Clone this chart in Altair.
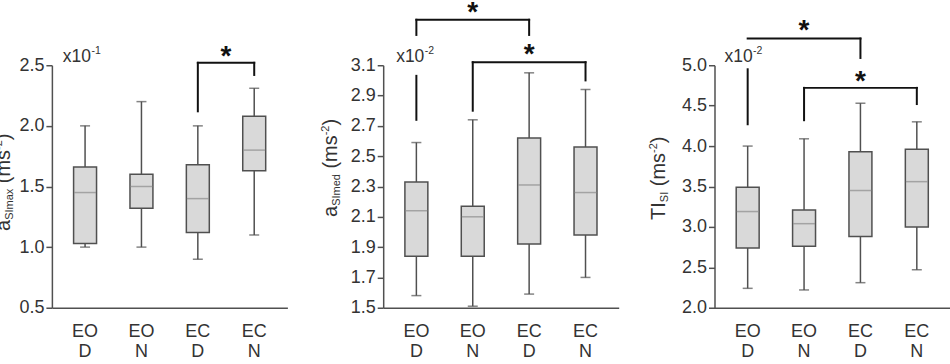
import altair as alt
import pandas as pd

# ---- groups: eyes open / eyes closed, day / night ----
group_pos = [1, 2, 3, 4]
eye_cond = ["EO", "EO", "EC", "EC"]
time_cond = ["D", "N", "D", "N"]

# ---- a_SImax (x10^-1 m s^-2): box statistics ----
amax_min = [1.00, 1.00, 0.90, 1.10]
amax_q1 = [1.03, 1.32, 1.12, 1.63]
amax_med = [1.45, 1.50, 1.40, 1.80]
amax_q3 = [1.66, 1.60, 1.68, 2.08]
amax_max = [2.00, 2.20, 2.00, 2.31]

# ---- a_SImed (x10^-2 m s^-2) ----
amed_min = [1.58, 1.51, 1.59, 1.70]
amed_q1 = [1.84, 1.84, 1.92, 1.98]
amed_med = [2.14, 2.10, 2.31, 2.26]
amed_q3 = [2.33, 2.17, 2.62, 2.56]
amed_max = [2.59, 2.74, 3.05, 2.94]

# ---- TI_SI (x10^-2 m s^-2) ----
ti_min = [2.24, 2.22, 2.31, 2.47]
ti_q1 = [2.74, 2.76, 2.88, 3.00]
ti_med = [3.19, 3.04, 3.45, 3.56]
ti_q3 = [3.49, 3.21, 3.93, 3.96]
ti_max = [4.00, 4.09, 4.53, 4.30]

# ---- y-axis ticks ----
amax_ticks = [0.5, 1.0, 1.5, 2.0, 2.5]
amed_ticks = [1.5, 1.7, 1.9, 2.1, 2.3, 2.5, 2.7, 2.9, 3.1]
ti_ticks = [2.0, 2.5, 3.0, 3.5, 4.0, 4.5, 5.0]

# ---- significance brackets: horizontal bars (from, to, level) ----
amax_bar_from, amax_bar_to, amax_bar_level = [3], [4], [2.52]
amed_bar_from, amed_bar_to, amed_bar_level = [1, 2], [3, 4], [3.40, 3.12]
ti_bar_from, ti_bar_to, ti_bar_level = [1, 2], [3, 4], [5.33, 4.72]

# bracket legs (group, upper end, lower end)
amax_leg_at, amax_leg_top, amax_leg_end = [3, 4], [2.52, 2.52], [2.12, 2.42]
amed_leg_at = [1, 1, 3, 2, 4]
amed_leg_top = [3.40, 3.03, 3.40, 3.12, 3.12]
amed_leg_end = [3.30, 2.74, 3.30, 2.80, 3.00]
ti_leg_at = [1, 3, 2, 4]
ti_leg_top = [4.95, 5.33, 4.72, 4.72]
ti_leg_end = [4.27, 5.09, 4.32, 4.52]

# asterisks (centre between the compared groups, level)
amax_star_at, amax_star_level = [3.5], [2.61]
amed_star_at, amed_star_level = [2.0, 3.0], [3.48, 3.20]
ti_star_at, ti_star_level = [2.0, 3.0], [5.49, 4.86]

# ---- styling ----
W, H = 236, 243
FONT = "Liberation Sans"
LINE = "#505050"
TEXT = "#333333"
BOX_FILL = "#d9d9d9"
MEDIAN = "#8c8c8c"
BRACKET = "#111111"

# Arial / Liberation Sans advance widths (per 1000 em) for laying out rich titles
ADV = {"a": 556, "S": 667, "I": 278, "m": 833, "x": 500, "e": 556, "d": 556,
       "T": 611, " ": 278, "(": 333, ")": 333, "s": 500, "-": 333,
       "0": 556, "1": 556, "2": 556}


def text_width(s, size):
    return sum(ADV.get(c, 556) for c in s) * size / 1000.0


def one_text(txt, x, y, size, **kw):
    return alt.Chart(pd.DataFrame({"t": [txt]})).mark_text(
        font=FONT, fontSize=size, color=TEXT, align="left", baseline="alphabetic", **kw
    ).encode(x=alt.value(x), y=alt.value(y), text="t:N")


def rotated_title(parts, x, y0):
    """Vertical title reading bottom to top, with sub/superscript pieces."""
    layers = []
    y = y0
    for txt, kind in parts:
        size = 20 if kind == "main" else 11
        shift = {"main": 0, "sub": 3, "sup": -8}[kind]
        stripped = txt.lstrip(" ")
        y -= text_width(txt[: len(txt) - len(stripped)], size)
        layers.append(one_text(stripped, x + shift, y, size, angle=270))
        y -= text_width(stripped, size)
    return layers


def exponent(power, x, y):
    return [one_text("x10", x, y, 17.5),
            one_text(power, x + text_width("x10", 17.5) + 0.5, y - 8, 10.5)]


def panel(lo, q1, med, q3, hi, ticks, bars, legs, stars, title_parts, title_x, title_y0,
          power, exp_x, exp_y, extra=None):
    box = pd.DataFrame({"pos": group_pos, "eye": eye_cond, "time": time_cond,
                        "lo": lo, "q1": q1, "med": med, "q3": q3, "hi": hi})
    xscale = alt.Scale(domain=[0.5, 4.5], nice=False, zero=False)
    yscale = alt.Scale(domain=[ticks[0], ticks[-1]], nice=False, zero=False)
    xaxis = alt.Axis(title=None, labels=False, ticks=False, grid=False,
                     domainColor=LINE, domainWidth=1.5)
    yaxis = alt.Axis(title=None, values=ticks, tickCount=len(ticks), format=".1f",
                     grid=False, tickSize=6, tickWidth=1.5, tickColor=LINE,
                     domainColor=LINE, domainWidth=1.5,
                     labelFont=FONT, labelFontSize=18, labelColor=TEXT, labelPadding=2,
                     labelOverlap=False, labelFlush=False)

    def X(field):
        return alt.X(field, scale=xscale, axis=xaxis, title=None)

    def Y(field):
        return alt.Y(field, scale=yscale, axis=yaxis, title=None)

    base = alt.Chart(box)
    whisk = base.mark_rule(color=LINE, strokeWidth=1.5).encode(
        x=X("pos:Q"), y=Y("lo:Q"), y2="hi:Q")
    boxes = base.mark_bar(size=23, fill=BOX_FILL, stroke=LINE, strokeWidth=1.5).encode(
        x=X("pos:Q"), y=Y("q1:Q"), y2="q3:Q")
    medians = base.mark_tick(orient="horizontal", size=22, thickness=1.5, color=MEDIAN).encode(
        x=X("pos:Q"), y=Y("med:Q"))
    cap_lo = base.mark_tick(orient="horizontal", size=10, thickness=1.5, color=LINE).encode(
        x=X("pos:Q"), y=Y("lo:Q"))
    cap_hi = base.mark_tick(orient="horizontal", size=10, thickness=1.5, color=LINE).encode(
        x=X("pos:Q"), y=Y("hi:Q"))
    lab_eye = base.mark_text(font=FONT, fontSize=18, color=TEXT, baseline="alphabetic").encode(
        x=X("pos:Q"), y=alt.value(H + 29), text="eye:N")
    lab_time = base.mark_text(font=FONT, fontSize=18, color=TEXT, baseline="alphabetic").encode(
        x=X("pos:Q"), y=alt.value(H + 49), text="time:N")

    bar_df = pd.DataFrame({"b0": bars[0], "b1": bars[1], "lvl": bars[2]})
    hbars = alt.Chart(bar_df).mark_rule(color=BRACKET, strokeWidth=2, strokeCap="square").encode(
        x=X("b0:Q"), x2="b1:Q", y=Y("lvl:Q"))
    leg_df = pd.DataFrame({"at": legs[0], "top": legs[1], "end": legs[2]})
    vlegs = alt.Chart(leg_df).mark_rule(color=BRACKET, strokeWidth=2, strokeCap="square").encode(
        x=X("at:Q"), y=Y("top:Q"), y2="end:Q")
    star_df = pd.DataFrame({"at": stars[0], "lvl": stars[1], "s": ["*"] * len(stars[0])})
    star = alt.Chart(star_df).mark_text(font=FONT, fontSize=28, fontWeight="bold",
                                        color=BRACKET, baseline="middle", dy=5).encode(
        x=X("at:Q"), y=Y("lvl:Q"), text="s:N")

    layers = [whisk, boxes, medians, cap_lo, cap_hi, lab_eye, lab_time, hbars, vlegs, star]
    layers += rotated_title(title_parts, title_x, title_y0)
    layers += exponent(power, exp_x, exp_y)
    if extra is not None:
        layers.append(extra)
    return alt.layer(*layers).properties(width=W, height=H)


# invisible corner that fixes the drawing origin of the whole figure
corner = alt.Chart(pd.DataFrame({"k": [0]})).mark_rect(opacity=0).encode(
    x=alt.value(-100), x2=alt.value(-99), y=alt.value(-100), y2=alt.value(-99))

p1 = panel(amax_min, amax_q1, amax_med, amax_q3, amax_max, amax_ticks,
           (amax_bar_from, amax_bar_to, amax_bar_level),
           (amax_leg_at, amax_leg_top, amax_leg_end),
           (amax_star_at, amax_star_level),
           [("a", "main"), ("SImax", "sub"), (" (ms", "main"), ("-2", "sup"), (")", "main")],
           -42, 166, "-1", 11, -3, extra=corner)

p2 = panel(amed_min, amed_q1, amed_med, amed_q3, amed_max, amed_ticks,
           (amed_bar_from, amed_bar_to, amed_bar_level),
           (amed_leg_at, amed_leg_top, amed_leg_end),
           (amed_star_at, amed_star_level),
           [("a", "main"), ("SImed", "sub"), (" (ms", "main"), ("-2", "sup"), (")", "main")],
           -46, 152, "-2", 13, -3)

p3 = panel(ti_min, ti_q1, ti_med, ti_q3, ti_max, ti_ticks,
           (ti_bar_from, ti_bar_to, ti_bar_level),
           (ti_leg_at, ti_leg_top, ti_leg_end),
           (ti_star_at, ti_star_level),
           [("TI", "main"), ("SI", "sub"), (" (ms", "main"), ("-2", "sup"), (")", "main")],
           -50, 155, "-2", 10, -3)

chart = alt.hconcat(p1, p2, p3, spacing=96, bounds="flush").properties(
    padding={"left": -48, "top": -35, "right": 0, "bottom": 0},
    background="white",
).configure_view(stroke=None)

chart.save("out.html", embed_options={"renderer": "svg", "actions": False})
